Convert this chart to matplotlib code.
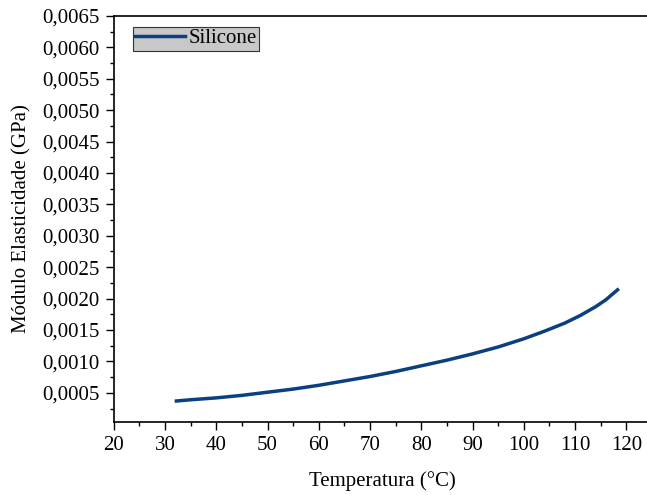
import matplotlib.pyplot as plt
from matplotlib.ticker import MultipleLocator, FuncFormatter

# Data
temperatura = [32.2, 35, 40, 45, 50, 55, 60, 65, 70, 75, 80, 85, 90, 95, 100, 104, 108, 111, 114, 116, 118.3]
modulo = [0.00037, 0.00039, 0.00042, 0.00046, 0.00051, 0.00056, 0.00062, 0.00069, 0.00076, 0.00084,
          0.00093, 0.00102, 0.00112, 0.00123, 0.00136, 0.00148, 0.00161, 0.00173, 0.00187, 0.00198, 0.00214]

plt.rcParams['font.family'] = ['Liberation Serif', 'DejaVu Serif']
plt.rcParams['font.size'] = 15

fig = plt.figure(figsize=(6.47, 4.95), dpi=100)
ax = fig.add_axes([0.176, 0.148, 0.83, 0.82])

ax.plot(temperatura, modulo, color='#0a3f80', lw=2.5, label='Silicone')

ax.set_xlim(20, 124.8)
ax.set_ylim(0.00004, 0.0065)
ax.xaxis.set_major_locator(MultipleLocator(10))
ax.xaxis.set_minor_locator(MultipleLocator(5))
ax.yaxis.set_major_locator(MultipleLocator(0.0005))
ax.yaxis.set_minor_locator(MultipleLocator(0.00025))
ax.yaxis.set_major_formatter(FuncFormatter(lambda v, p: f'{v:.4f}'.replace('.', ',')))

ax.tick_params(which='major', direction='out', length=6, width=1, labelsize=15, pad=4)
ax.tick_params(which='minor', direction='out', length=3, width=1)
ax.spines['right'].set_visible(False)
for s in ('left', 'bottom', 'top'):
    ax.spines[s].set_linewidth(1.2)

ax.set_xlabel('Temperatura (°C)', fontsize=15, labelpad=12)
ax.set_ylabel('Módulo Elasticidade (GPa)', fontsize=15, labelpad=8)

leg = ax.legend(loc='upper left', bbox_to_anchor=(0.035, 0.973), fancybox=False, framealpha=1,
                facecolor='#c8c8c8', edgecolor='#333333', handlelength=2.4, handletextpad=0.2,
                borderpad=0.1, borderaxespad=0, fontsize=15)
leg.get_frame().set_linewidth(0.8)

fig.savefig('out.png', dpi=100)
